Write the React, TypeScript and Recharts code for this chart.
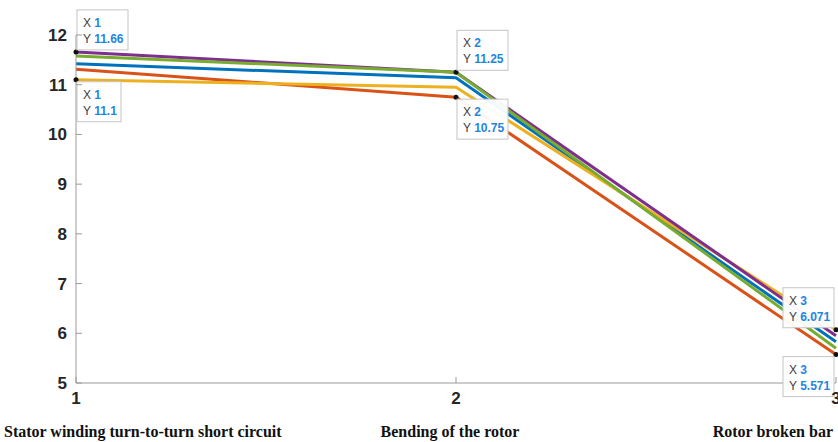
import React from "react";
import {
  LineChart,
  Line,
  XAxis,
  YAxis,
  ReferenceDot,
} from "recharts";

// x positions and the fault categories under them
const xs = [1, 2, 3];
const categories = [
  "Stator winding turn-to-turn short circuit",
  "Bending of the rotor",
  "Rotor broken bar",
];
const yTicks = [5, 6, 7, 8, 9, 10, 11, 12];

// series values
const blue = [11.42, 11.14, 5.83];
const red = [11.31, 10.75, 5.571];
const yellow = [11.1, 10.95, 6.071];
const purple = [11.66, 11.25, 5.95];
const green = [11.58, 11.25, 5.7];

// data tips shown on the plot: [x, y, placement]
const tips: [number, number, string][] = [
  [1, 11.66, "ur"],
  [1, 11.1, "dr"],
  [2, 11.25, "ur"],
  [2, 10.75, "dr"],
  [3, 6.071, "ul"],
  [3, 5.571, "dl"],
];

const data = xs.map((x, i) => ({
  x,
  blue: blue[i],
  red: red[i],
  yellow: yellow[i],
  purple: purple[i],
  green: green[i],
}));

const AXIS = "#9a9a9a";
const TXT = "#262626";

const YTick = (props: any) => {
  const { x, y, payload } = props;
  return (
    <g>
      <line x1={x} x2={x + 6} y1={y} y2={y} stroke={AXIS} />
      <text
        x={x - 9}
        y={y}
        dy={6}
        textAnchor="end"
        fontSize={17}
        fontWeight="bold"
        fill={TXT}
        fontFamily="Arial, 'Liberation Sans', sans-serif"
      >
        {payload.value}
      </text>
    </g>
  );
};

const RightTick = (props: any) => {
  const { x, y } = props;
  return <line x1={x} x2={x - 6} y1={y} y2={y} stroke={AXIS} />;
};

const TopTick = (props: any) => {
  const { x, y } = props;
  return <line x1={x} x2={x} y1={y} y2={y + 6} stroke={AXIS} />;
};

const anchors = ["start", "middle", "end"];
const catDx = [-72, -6, -3];

const XTick = (props: any) => {
  const { x, y, payload, index } = props;
  return (
    <g>
      <line x1={x} x2={x} y1={y} y2={y - 6} stroke={AXIS} />
      <text
        x={x}
        y={y + 21}
        textAnchor="middle"
        fontSize={17}
        fontWeight="bold"
        fill={TXT}
        fontFamily="Arial, 'Liberation Sans', sans-serif"
      >
        {payload.value}
      </text>
      <text
        x={x + catDx[index]}
        y={y + 54}
        textAnchor={anchors[index]}
        fontSize={16}
        fontWeight="bold"
        fill="#111"
        fontFamily="'Liberation Serif', 'Times New Roman', serif"
      >
        {categories[index]}
      </text>
    </g>
  );
};

const makeTip = (xv: number, yv: number, place: string) => (props: any) => {
  const vb = props.viewBox || {};
  const cx = vb.x + vb.width / 2;
  const cy = vb.y + vb.height / 2;
  const w = 16 + 7 * String(yv).length;
  const h = 40;
  const bx = place[1] === "r" ? cx + 1 : cx - 2 - w;
  const by = place[0] === "u" ? cy - 2 - h : cy + 2;
  const font = "Arial, 'Liberation Sans', sans-serif";
  return (
    <g>
      <rect x={bx} y={by} width={w} height={h} fill="#ffffff" fillOpacity={0.95} stroke="#c4c4c4" />
      <text x={bx + 6} y={by + 17} fontSize={12} fontFamily={font}>
        <tspan fill="#404040">X </tspan>
        <tspan fill="#1f86e0" fontWeight="bold">{xv}</tspan>
      </text>
      <text x={bx + 6} y={by + 33} fontSize={12} fontFamily={font}>
        <tspan fill="#404040">Y </tspan>
        <tspan fill="#1f86e0" fontWeight="bold">{yv}</tspan>
      </text>
    </g>
  );
};

export default function App() {
  return (
    <div style={{ position: "absolute", left: 0, top: 0, background: "#fff" }}>
      <LineChart
        width={838}
        height={442}
        data={data}
        margin={{ top: 35, right: 2, bottom: 0, left: 0 }}
      >
        <XAxis
          dataKey="x"
          type="number"
          domain={[1, 3]}
          ticks={xs}
          interval={0}
          height={59}
          tickSize={0}
          tickMargin={0}
          stroke={AXIS}
          tick={<XTick />}
        />
        <XAxis
          xAxisId="top"
          dataKey="x"
          type="number"
          orientation="top"
          domain={[1, 3]}
          ticks={xs}
          interval={0}
          height={0}
          tickSize={0}
          tickMargin={0}
          stroke={AXIS}
          tick={<TopTick />}
        />
        <YAxis
          type="number"
          domain={[5, 12]}
          ticks={yTicks}
          interval={0}
          width={76}
          tickSize={0}
          tickMargin={0}
          stroke={AXIS}
          tick={<YTick />}
        />
        <YAxis
          yAxisId="right"
          orientation="right"
          type="number"
          domain={[5, 12]}
          ticks={yTicks}
          interval={0}
          width={0}
          tickSize={0}
          tickMargin={0}
          stroke={AXIS}
          tick={<RightTick />}
        />
        <Line dataKey="blue" stroke="#0072BD" strokeWidth={3} dot={false} isAnimationActive={false} />
        <Line dataKey="red" stroke="#D95319" strokeWidth={3} dot={false} isAnimationActive={false} />
        <Line dataKey="yellow" stroke="#EDB120" strokeWidth={3} dot={false} isAnimationActive={false} />
        <Line dataKey="purple" stroke="#7E2F8E" strokeWidth={3} dot={false} isAnimationActive={false} />
        <Line dataKey="green" stroke="#77AC30" strokeWidth={3} dot={false} isAnimationActive={false} />
        {tips.map(([tx, ty, place], i) => (
          <ReferenceDot
            key={i}
            x={tx}
            y={ty}
            r={2.5}
            fill="#111"
            stroke="none"
            ifOverflow="visible"
            label={makeTip(tx, ty, place)}
          />
        ))}
      </LineChart>
    </div>
  );
}
